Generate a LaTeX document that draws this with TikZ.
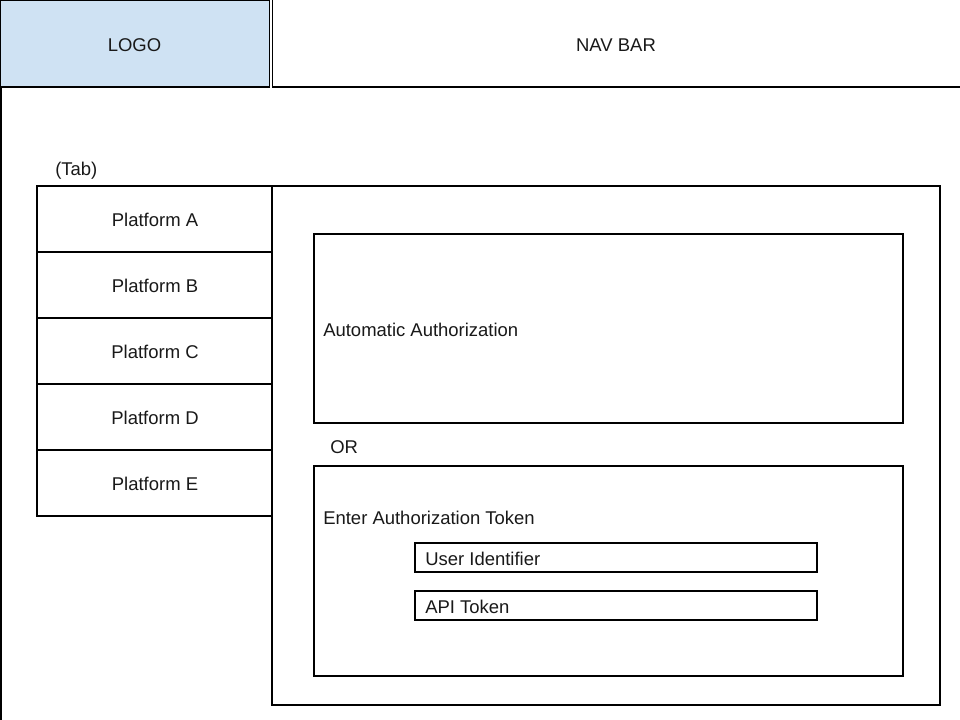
\documentclass[tikz,border=0pt]{standalone}
\usepackage{fontspec}
\setmainfont{Liberation Sans}
\definecolor{logoblue}{HTML}{CFE2F3}
\begin{document}
\begin{tikzpicture}[x=0.75pt,y=-0.75pt,
  box/.style={draw=black,line width=0.8pt,fill=white},
  lbl/.style={font=\fontsize{13.85}{17}\selectfont,inner sep=0pt,text=black!90}]
\useasboundingbox (0,0) rectangle (960,720);
\fill[white] (0,0) rectangle (960,720);
% header
\draw[box,fill=logoblue] (0.5,0.5) rectangle (269.5,87);
\node[lbl] (logo) at (134.5,45) {LOGO};
\draw[box] (272.5,-3) rectangle (965,87);
\node[lbl] (nav) at (616,45) {NAV BAR};
\draw[line width=0.8pt] (1,87) -- (1,725);
% tab
\node[lbl,anchor=west] (tab) at (55,171) {(Tab)};
\draw[box] (272,186) rectangle (940,705);
\foreach \i/\t in {0/A,1/B,2/C,3/D,4/E}{
  \draw[box] (37,186+66*\i) rectangle (272,252+66*\i);
  \node[lbl] (plat\t) at (155,220+66*\i) {Platform \t};
}
% automatic
\draw[box] (314,234) rectangle (903,423);
\node[lbl,anchor=west] (auto) at (323,330) {Automatic Authorization};
\node[lbl,anchor=west] (or) at (330,447) {OR};
% token
\draw[box] (314,466) rectangle (903,676);
\node[lbl,anchor=west] (enter) at (323,518) {Enter Authorization Token};
\draw[box] (415,543) rectangle (817,572);
\node[lbl,anchor=west] (user) at (425,559) {User Identifier};
\draw[box] (415,591) rectangle (817,620);
\node[lbl,anchor=west] (api) at (425,607) {API Token};
\end{tikzpicture}
\end{document}
